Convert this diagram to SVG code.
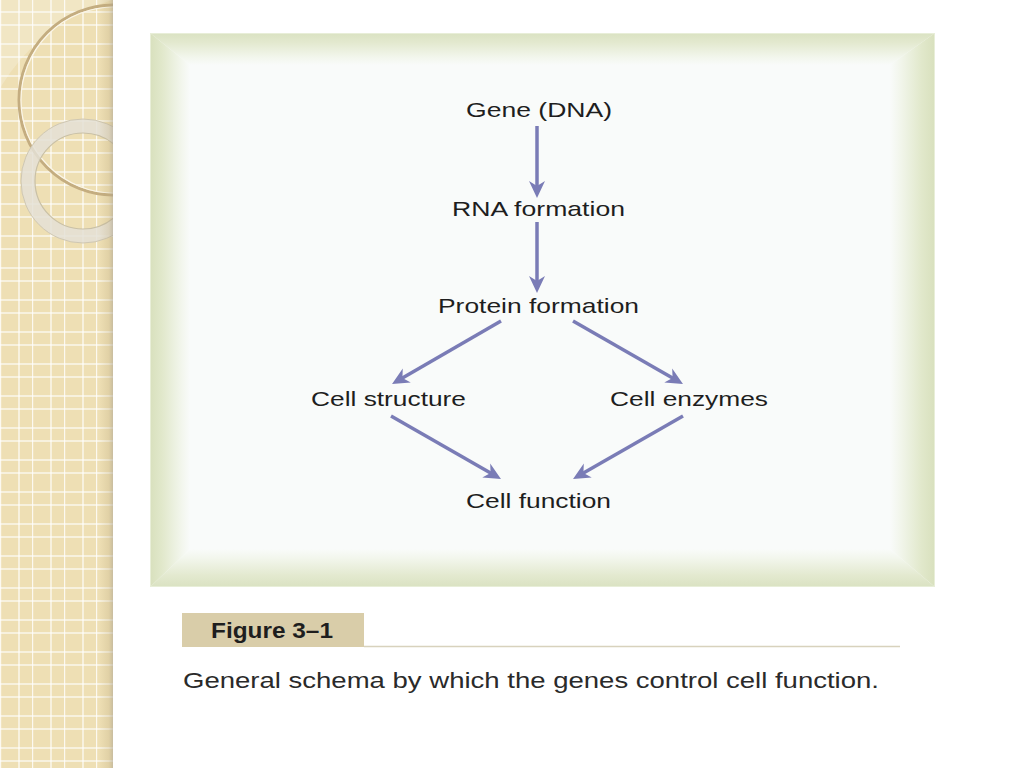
<svg xmlns="http://www.w3.org/2000/svg" width="1024" height="768" viewBox="0 0 1024 768">
  <defs>
    <style>
      .lbl { font-family: "Liberation Sans", Arial, sans-serif; font-size: 21px; fill: #1e1e1e; }
      .cap { font-family: "Liberation Sans", Arial, sans-serif; font-size: 22px; fill: #2a2a2a; }
      .fig { font-family: "Liberation Sans", Arial, sans-serif; font-size: 22px; font-weight: bold; fill: #1e1e1e; }
      .conn { stroke: #7a7cb6; stroke-width: 3.5; fill: none; marker-end: url(#arrow); }
    </style>
    <marker id="arrow" markerUnits="userSpaceOnUse" viewBox="-9 -9 20 18" refX="0" refY="0" markerWidth="20" markerHeight="18" orient="auto">
      <path d="M10,0 L-7,-8 L-2,0 L-7,8 Z" fill="#7a7cb6"/>
    </marker>
    <pattern id="grid" patternUnits="userSpaceOnUse" width="32" height="32" x="0" y="0">
      <rect x="0" y="0" width="32" height="32" fill="none"/>
      <line x1="0.5" y1="0" x2="0.5" y2="32" stroke="#ffffff" stroke-width="1.4" stroke-opacity="0.8"/>
      <line x1="19" y1="0" x2="19" y2="32" stroke="#ffffff" stroke-width="1.4" stroke-opacity="0.8"/>
      <line x1="0" y1="12" x2="32" y2="12" stroke="#ffffff" stroke-width="1.4" stroke-opacity="0.8"/>
      <line x1="0" y1="25" x2="32" y2="25" stroke="#ffffff" stroke-width="1.4" stroke-opacity="0.8"/>
    </pattern>
    <linearGradient id="shadowR" x1="0" y1="0" x2="1" y2="0">
      <stop offset="0" stop-color="#b8a67a" stop-opacity="0"/>
      <stop offset="0.7" stop-color="#b8a67a" stop-opacity="0.25"/>
      <stop offset="1" stop-color="#a8a090" stop-opacity="0.55"/>
    </linearGradient>
    <linearGradient id="gTop" x1="0" y1="0" x2="0" y2="1">
      <stop offset="0" stop-color="#dae2c2"/>
      <stop offset="0.3" stop-color="#e3e9cf"/>
      <stop offset="0.75" stop-color="#f2f6ec"/>
      <stop offset="1" stop-color="#f9fbfa"/>
    </linearGradient>
    <linearGradient id="gBottom" x1="0" y1="1" x2="0" y2="0">
      <stop offset="0" stop-color="#dae2c2"/>
      <stop offset="0.3" stop-color="#e3e9cf"/>
      <stop offset="0.75" stop-color="#f2f6ec"/>
      <stop offset="1" stop-color="#f9fbfa"/>
    </linearGradient>
    <linearGradient id="gLeft" x1="0" y1="0" x2="1" y2="0">
      <stop offset="0" stop-color="#d8e0bd"/>
      <stop offset="0.3" stop-color="#e1e8cb"/>
      <stop offset="0.75" stop-color="#f1f5ea"/>
      <stop offset="1" stop-color="#f9fbfa"/>
    </linearGradient>
    <linearGradient id="gRight" x1="1" y1="0" x2="0" y2="0">
      <stop offset="0" stop-color="#d8e0bd"/>
      <stop offset="0.3" stop-color="#e1e8cb"/>
      <stop offset="0.75" stop-color="#f1f5ea"/>
      <stop offset="1" stop-color="#f9fbfa"/>
    </linearGradient>
    <clipPath id="stripClip">
      <rect x="0" y="0" width="113" height="768"/>
    </clipPath>
  </defs>

  <rect x="0" y="0" width="1024" height="768" fill="#ffffff"/>

  <!-- decorative left strip -->
  <g id="strip" clip-path="url(#stripClip)">
    <rect x="0" y="0" width="113" height="768" fill="#eedfb4"/>
    <rect x="0" y="0" width="113" height="768" fill="url(#grid)"/>
    <path d="M0,0 H112 Q40,22 0,88 Z" fill="#ffffff" fill-opacity="0.22"/>
    <circle cx="114" cy="100" r="95" fill="none" stroke="#c4ad80" stroke-width="3"/>
    <circle cx="114" cy="100" r="93" fill="none" stroke="#fbf6e8" stroke-width="1.2"/>
    <circle cx="83" cy="181" r="55" fill="none" stroke="#e4e0d6" stroke-width="14" stroke-opacity="0.85"/>
    <circle cx="83" cy="181" r="62" fill="none" stroke="#cfc7b2" stroke-width="1"/>
    <circle cx="83" cy="181" r="48" fill="none" stroke="#c9c0a6" stroke-width="1.2"/>
    <rect x="99" y="0" width="14" height="768" fill="url(#shadowR)"/>
  </g>

  <!-- frame -->
  <g id="frame">
    <rect x="150" y="33" width="785" height="554" fill="#f9fbfa"/>
    <polygon points="150,33 935,33 890,65 190,65" fill="url(#gTop)"/>
    <polygon points="150,587 935,587 890,549 190,549" fill="url(#gBottom)"/>
    <polygon points="150,33 190,65 190,549 150,587" fill="url(#gLeft)"/>
    <polygon points="935,33 890,65 890,549 935,587" fill="url(#gRight)"/>
    <rect x="150.5" y="33.5" width="784" height="553" fill="none" stroke="#e8eed8" stroke-width="1"/>
  </g>

  <!-- connectors -->
  <g id="connectors">
    <line class="conn" x1="537" y1="126" x2="537" y2="188"/>
    <line class="conn" x1="537" y1="222" x2="537" y2="283"/>
    <line class="conn" x1="501" y1="321" x2="400.7" y2="379"/>
    <line class="conn" x1="573" y1="321" x2="674.3" y2="379"/>
    <line class="conn" x1="391" y1="416" x2="492.3" y2="474"/>
    <line class="conn" x1="683" y1="416" x2="581.7" y2="474"/>
  </g>

  <!-- nodes -->
  <g id="node-gene"><text class="lbl" x="466" y="117" textLength="146" lengthAdjust="spacingAndGlyphs">Gene (DNA)</text></g>
  <g id="node-rna"><text class="lbl" x="452" y="216" textLength="173" lengthAdjust="spacingAndGlyphs">RNA formation</text></g>
  <g id="node-protein"><text class="lbl" x="438" y="313" textLength="201" lengthAdjust="spacingAndGlyphs">Protein formation</text></g>
  <g id="node-structure"><text class="lbl" x="311" y="406" textLength="155" lengthAdjust="spacingAndGlyphs">Cell structure</text></g>
  <g id="node-enzymes"><text class="lbl" x="610" y="406" textLength="158" lengthAdjust="spacingAndGlyphs">Cell enzymes</text></g>
  <g id="node-function"><text class="lbl" x="466" y="508" textLength="145" lengthAdjust="spacingAndGlyphs">Cell function</text></g>

  <!-- caption -->
  <g id="caption">
    <rect x="182" y="613" width="182" height="34" fill="#d9cda9"/>
    <line x1="364" y1="646.5" x2="900" y2="646.5" stroke="#d8d2bd" stroke-width="1.5"/>
    <text class="fig" x="211" y="638" textLength="122" lengthAdjust="spacingAndGlyphs">Figure 3–1</text>
    <text class="cap" x="183" y="688" textLength="696" lengthAdjust="spacingAndGlyphs">General schema by which the genes control cell function.</text>
  </g>
</svg>
